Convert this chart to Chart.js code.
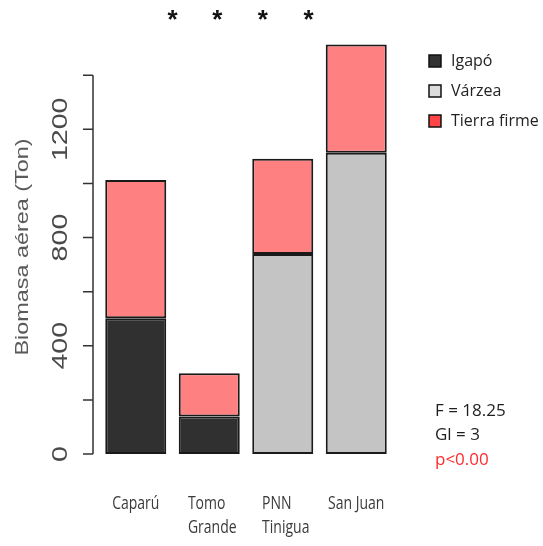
<!DOCTYPE html>
<html>
<head>
<meta charset="utf-8">
<script src="https://cdn.jsdelivr.net/npm/chart.js@4.4.1/dist/chart.umd.min.js"></script>
<style>
    html, body { margin: 0; padding: 0; background: #ffffff; }
    #wrap { width: 543px; height: 546px; }
</style>
</head>
<body>
<div id="wrap"><canvas id="biomasaChart" width="543" height="546"></canvas></div>
<script>
// Biomasa aérea por sitio y tipo de bosque
const sites = [['Caparú'], ['Tomo', 'Grande'], ['PNN', 'Tinigua'], ['San Juan']];
const igapo = [502, 139, null, null];
const varzea = [null, null, 739, 1113];
const tierraFirme = [511, 159, 352, 400];
const seriesNames = ['Igapó', 'Várzea', 'Tierra firme'];

const yTickValues = [0, 200, 400, 600, 800, 1000, 1200, 1400];
const yTickLabels = ['0', '', '400', '', '800', '', '1200', ''];
const yTitle = 'Biomasa aérea (Ton)';

// asterisks above the plot, in category units
const sigMarks = [0.5, 1.11, 1.73, 2.35];
const statsLines = ['F = 18.25', 'Gl = 3', 'p<0.00'];

const barColors = ['#303030', '#c4c4c4', '#ff8080'];
const legendColors = ['#333333', '#dcdcdc', '#ff4545'];
const statsColors = ['#1f1f1f', '#1f1f1f', '#ff2a2a'];

const rPlot = {
    id: 'rPlot',
    afterDraw(chart) {
        const ctx = chart.ctx;
        const x = chart.scales.x;
        const y = chart.scales.y;
        const area = chart.chartArea;
        const axisX = area.left - 6;

        ctx.save();

        // R style y axis
        ctx.strokeStyle = '#333';
        ctx.lineWidth = 1.5;
        ctx.beginPath();
        ctx.moveTo(axisX, y.getPixelForValue(yTickValues[0]));
        ctx.lineTo(axisX, y.getPixelForValue(yTickValues[yTickValues.length - 1]));
        yTickValues.forEach(v => {
            const py = y.getPixelForValue(v);
            ctx.moveTo(axisX - 10, py);
            ctx.lineTo(axisX, py);
        });
        ctx.stroke();

        // rotated tick labels
        ctx.fillStyle = '#4a4a4a';
        ctx.font = '22px "Liberation Sans", Arial, sans-serif';
        ctx.textAlign = 'center';
        ctx.textBaseline = 'alphabetic';
        yTickLabels.forEach((lab, i) => {
            if (!lab) return;
            const py = y.getPixelForValue(yTickValues[i]);
            ctx.save();
            ctx.translate(67, py);
            ctx.rotate(-Math.PI / 2);
            ctx.scale(1.3, 1);
            ctx.fillText(lab, 0, 0);
            ctx.restore();
        });

        // axis title
        ctx.fillStyle = '#5a5a5a';
        ctx.font = '18px "Liberation Sans", Arial, sans-serif';
        ctx.save();
        ctx.translate(28, (area.top + area.bottom) / 2);
        ctx.rotate(-Math.PI / 2);
        ctx.scale(1.3, 1);
        ctx.fillText(yTitle, 0, 0);
        ctx.restore();

        // category labels
        ctx.fillStyle = '#3a3a3a';
        ctx.font = '500 14px "Open Sans", sans-serif';
        ctx.textAlign = 'left';
        sites.forEach((lines, i) => {
            const widths = lines.map(l => ctx.measureText(l).width);
            const w = Math.max(...widths);
            const cx = x.getPixelForValue(i) + (lines.length > 1 ? 3 : 0);
            lines.forEach((line, j) => {
                ctx.save();
                ctx.translate(cx - w / 2, area.bottom + 55 + j * 24);
                ctx.scale(1, 1.3);
                ctx.fillText(line, 0, 0);
                ctx.restore();
            });
        });

        // significance asterisks
        ctx.fillStyle = '#111';
        ctx.font = 'bold 26px "Liberation Sans", Arial, sans-serif';
        ctx.textAlign = 'center';
        ctx.textBaseline = 'top';
        sigMarks.forEach(m => {
            ctx.fillText('*', x.getPixelForValue(m), 8);
        });

        // legend
        ctx.font = '16px "Open Sans", sans-serif';
        ctx.textAlign = 'left';
        ctx.textBaseline = 'middle';
        ctx.lineWidth = 1.5;
        seriesNames.forEach((name, i) => {
            const cy = 61 + i * 30;
            ctx.fillStyle = legendColors[i];
            ctx.fillRect(429, cy - 6, 12, 12);
            ctx.strokeStyle = '#111';
            ctx.strokeRect(429, cy - 6, 12, 12);
            ctx.fillStyle = '#222';
            ctx.fillText(name, 451, cy);
        });

        // anova results
        ctx.font = '17px "Open Sans", sans-serif';
        statsLines.forEach((line, i) => {
            ctx.fillStyle = statsColors[i];
            ctx.fillText(line, 435, 411 + i * 24.5);
        });

        ctx.restore();
    }
};

const datasets = [igapo, varzea, tierraFirme].map((values, i) => ({
    label: seriesNames[i],
    data: values,
    backgroundColor: barColors[i],
    borderColor: '#1a1a1a',
    borderWidth: 2,
    borderSkipped: false,
    barPercentage: 0.83,
    categoryPercentage: 1
}));

new Chart(document.getElementById('biomasaChart'), {
    type: 'bar',
    data: {
        labels: sites,
        datasets: datasets
    },
    options: {
        responsive: false,
        animation: false,
        layout: {
            padding: { left: 99, right: 150, top: 40, bottom: 92 }
        },
        plugins: {
            legend: { display: false },
            tooltip: { enabled: false }
        },
        scales: {
            x: {
                stacked: true,
                display: false
            },
            y: {
                stacked: true,
                display: false,
                min: 0,
                max: 1530
            }
        }
    },
    plugins: [rPlot]
});
</script>
</body>
</html>
